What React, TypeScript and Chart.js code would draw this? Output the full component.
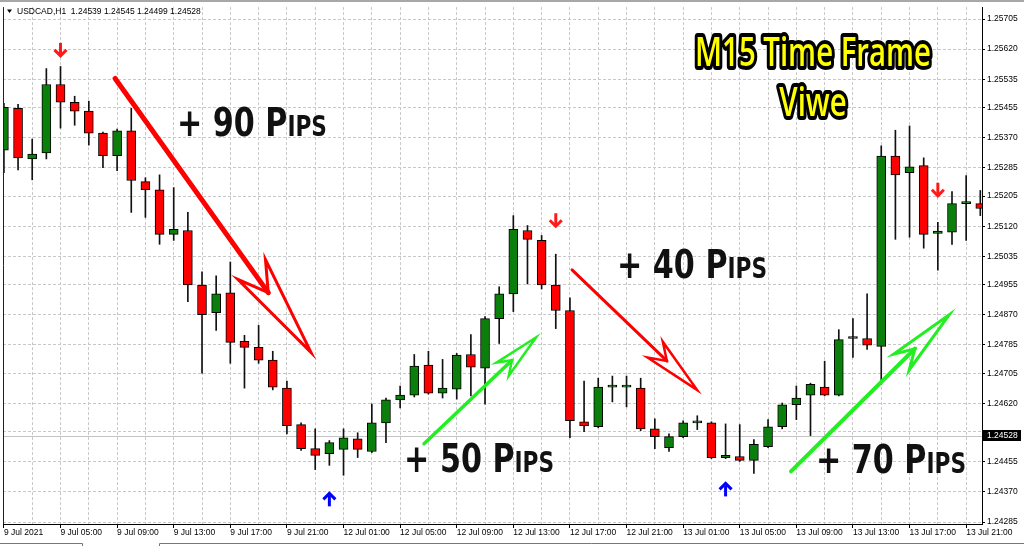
import React, { useEffect, useRef } from 'react';
import { Chart, registerables } from 'chart.js';

Chart.register(...registerables);

// ---------- DATA ----------
const symbolHeader = 'USDCAD,H1  1.24539 1.24545 1.24499 1.24528';
const currentPrice = 1.24528;

// hourly candles, 9 Jul 2021 01:00 -> 13 Jul 2021 22:00
const opens = [
  1.25335, 1.25453, 1.2531, 1.25327, 1.2552, 1.2547, 1.25445, 1.25383, 1.25319, 1.25389,
  1.25246, 1.25223, 1.25097, 1.25108, 1.24954, 1.24876, 1.24932, 1.24795, 1.24778, 1.24742,
  1.24663, 1.2456, 1.24492, 1.24478, 1.2449, 1.2452, 1.24484, 1.24565, 1.2463, 1.24643,
  1.24728, 1.24649, 1.2466, 1.24758, 1.24719, 1.24859, 1.24929, 1.25108, 1.2508, 1.24954,
  1.24882, 1.24568, 1.24554, 1.24666, 1.24666, 1.24663, 1.24548, 1.24495, 1.24526, 1.24565,
  1.24565, 1.24467, 1.2447, 1.24459, 1.24498, 1.24554, 1.24616, 1.24643, 1.24666, 1.24643,
  1.24803, 1.24803, 1.24781, 1.25318, 1.25271, 1.25291, 1.251, 1.25103, 1.25184, 1.25184,
];
const highs = [
  1.25467, 1.25464, 1.25366, 1.25565, 1.25571, 1.25487, 1.25473, 1.25386, 1.25394, 1.25453,
  1.25257, 1.25265, 1.25229, 1.25159, 1.24991, 1.2498, 1.25019, 1.24812, 1.2484, 1.24767,
  1.24683, 1.24565, 1.24548, 1.24515, 1.24548, 1.24537, 1.24618, 1.24635, 1.24669, 1.24758,
  1.24767, 1.24744, 1.24761, 1.24814, 1.24865, 1.24949, 1.2515, 1.25122, 1.25094, 1.25041,
  1.24918, 1.24683, 1.24691, 1.24697, 1.24697, 1.24691, 1.24576, 1.24534, 1.24571, 1.24585,
  1.24568, 1.24562, 1.2456, 1.24518, 1.24574, 1.24621, 1.24669, 1.24677, 1.24739, 1.24828,
  1.24859, 1.24929, 1.25347, 1.25391, 1.25403, 1.25313, 1.25131, 1.25218, 1.25263, 1.25221,
];
const lows = [
  1.25271, 1.25279, 1.25251, 1.2531, 1.25397, 1.25405, 1.25349, 1.25285, 1.25277, 1.25159,
  1.25145, 1.25069, 1.2508, 1.24907, 1.24705, 1.24826, 1.24733, 1.24663, 1.24733, 1.24658,
  1.24534, 1.24487, 1.24433, 1.24445, 1.24417, 1.24467, 1.24481, 1.24509, 1.24607, 1.24638,
  1.24646, 1.24635, 1.24632, 1.24641, 1.24618, 1.24789, 1.24879, 1.24957, 1.24943, 1.24831,
  1.24523, 1.2454, 1.24551, 1.24624, 1.2461, 1.24543, 1.24492, 1.24484, 1.24523, 1.24546,
  1.24464, 1.24464, 1.24456, 1.24422, 1.24495, 1.24548, 1.24574, 1.24529, 1.24641, 1.24641,
  1.2475, 1.24772, 1.24674, 1.25083, 1.25089, 1.25058, 1.24996, 1.25069, 1.2508, 1.2515,
];
const closes = [
  1.25456, 1.25313, 1.25324, 1.2552, 1.2547, 1.25445, 1.25383, 1.25319, 1.25389, 1.25249,
  1.25223, 1.25097, 1.25111, 1.24954, 1.2487, 1.24929, 1.24792, 1.24778, 1.24742, 1.24666,
  1.24557, 1.24492, 1.24473, 1.24509, 1.24523, 1.2449, 1.24565, 1.2463, 1.24643, 1.24725,
  1.24649, 1.24663, 1.24756, 1.24722, 1.24859, 1.24929, 1.25111, 1.25083, 1.24954, 1.24882,
  1.24571, 1.24557, 1.24666, 1.24666, 1.24666, 1.24548, 1.24526, 1.24526, 1.24565, 1.24565,
  1.24467, 1.24473, 1.24459, 1.24504, 1.24554, 1.24616, 1.24635, 1.24674, 1.24643, 1.248,
  1.24803, 1.24784, 1.25318, 1.25265, 1.25288, 1.25097, 1.25106, 1.25184, 1.25184, 1.2517,
];

// one label every 4 hours (every 4th candle)
const xTickLabels = [
  '9 Jul 2021', '9 Jul 05:00', '9 Jul 09:00', '9 Jul 13:00', '9 Jul 17:00', '9 Jul 21:00',
  '12 Jul 01:00', '12 Jul 05:00', '12 Jul 09:00', '12 Jul 13:00', '12 Jul 17:00', '12 Jul 21:00',
  '13 Jul 01:00', '13 Jul 05:00', '13 Jul 09:00', '13 Jul 13:00', '13 Jul 17:00', '13 Jul 21:00',
];
const yTickValues = [
  1.25705, 1.2562, 1.25535, 1.25455, 1.2537, 1.25285, 1.25205, 1.2512, 1.25035, 1.24955,
  1.2487, 1.24785, 1.24705, 1.2462, 1.2454, 1.24455, 1.2437, 1.24285,
];
const yMin = 1.242794;
const yMax = 1.257386;
const xMin = -0.064;
const xMax = 69.12;

// annotations in data units (candle index, price)
const downSignalIdx = [4, 39, 66];
const downSignalPrice = [1.25601, 1.2512, 1.25206];
const upSignalIdx = [23, 51];
const upSignalPrice = [1.24366, 1.24394];

const trendFromIdx = [7.86, 40.15, 29.69, 55.62];
const trendFromPrice = [1.25537, 1.24997, 1.24506, 1.24428];
const trendToIdx = [21.7, 48.98, 37.6, 66.8];
const trendToPrice = [1.24764, 1.24658, 1.24806, 1.2487];

const pipTexts = ['+ 90 Pips', '+ 50 Pips', '+ 40 Pips', '+ 70 Pips'];
const pipIdx = [12.23, 28.28, 43.33, 57.39];
const pipPrice = [1.25375, 1.24425, 1.24974, 1.24422];

const titleLines = ['M15 Time Frame', 'Viwe'];
const titleIdx = 57.18;
const titlePrice = [1.25573, 1.2543];

// ---------- STYLE ----------
const GREEN = '#0b7f0b';
const RED = '#ff0000';
const TICK_FONT = "'Liberation Sans', Arial, sans-serif";
const PIP_FONT = "'Liberation Sans Narrow', 'DejaVu Sans Condensed', 'DejaVu Sans', sans-serif";
const TITLE_FONT = "'Comic Sans MS', 'Open Sans', 'Noto Sans', sans-serif";

const trendColors = [RED, RED, '#22ee22', '#22ee22'];
const trendShaft = [5, 3, 3.5, 4];
const trendHeadL = [102, 58, 46, 67];
const trendHeadW = [17, 11, 9, 11];
const trendOutline = [3, 2.5, 2.5, 3];

function drawTrendArrow(ctx: CanvasRenderingContext2D, x0: number, y0: number, x1: number, y1: number,
  color: string, shaftW: number, headL: number, headW: number, outlineW: number) {
  const dx = x1 - x0, dy = y1 - y0;
  const len = Math.hypot(dx, dy);
  const ux = dx / len, uy = dy / len;
  const nx = -uy, ny = ux;
  const bx = x1 - ux * headL, by = y1 - uy * headL;
  const kx = x1 - ux * headL * 0.72, ky = y1 - uy * headL * 0.72;
  ctx.save();
  ctx.strokeStyle = color;
  ctx.lineCap = 'round';
  ctx.lineWidth = shaftW;
  ctx.beginPath();
  ctx.moveTo(x0, y0);
  ctx.lineTo(kx, ky);
  ctx.stroke();
  ctx.lineWidth = outlineW;
  ctx.lineJoin = 'miter';
  ctx.beginPath();
  ctx.moveTo(x1, y1);
  ctx.lineTo(bx + nx * headW, by + ny * headW);
  ctx.lineTo(kx, ky);
  ctx.lineTo(bx - nx * headW, by - ny * headW);
  ctx.closePath();
  ctx.stroke();
  ctx.restore();
}

function drawSignal(ctx: CanvasRenderingContext2D, cx: number, tipY: number, dir: number, color: string) {
  const h = 13, w = 6;
  ctx.save();
  ctx.strokeStyle = color;
  ctx.lineWidth = 3;
  ctx.lineCap = 'butt';
  ctx.lineJoin = 'miter';
  ctx.beginPath();
  ctx.moveTo(cx, tipY - dir * h);
  ctx.lineTo(cx, tipY - dir * 2);
  ctx.stroke();
  ctx.beginPath();
  ctx.moveTo(cx - w, tipY - dir * w);
  ctx.lineTo(cx, tipY);
  ctx.lineTo(cx + w, tipY - dir * w);
  ctx.stroke();
  ctx.restore();
}

function drawPips(ctx: CanvasRenderingContext2D, text: string, x: number, baseline: number) {
  const idx = text.indexOf('P');
  const head = text.slice(0, idx + 1);
  const tail = text.slice(idx + 1).toUpperCase();
  const big = `bold 39px ${PIP_FONT}`;
  const small = `bold 28px ${PIP_FONT}`;
  ctx.save();
  ctx.font = big;
  const w1 = ctx.measureText(head).width;
  ctx.font = small;
  const w2 = ctx.measureText(tail).width;
  const s = 150 / (w1 + w2);
  ctx.translate(x, baseline);
  ctx.scale(s, 1);
  ctx.fillStyle = '#111';
  ctx.textAlign = 'left';
  ctx.textBaseline = 'alphabetic';
  ctx.font = big;
  ctx.fillText(head, 0, 0);
  ctx.font = small;
  ctx.fillText(tail, w1, 0);
  ctx.restore();
}

const overlay = {
  id: 'overlay',
  beforeDatasetsDraw(chart: any) {
    const { ctx, chartArea, scales } = chart;
    const py = Math.round(scales.y.getPixelForValue(currentPrice)) + 0.5;
    ctx.save();
    ctx.strokeStyle = '#c4c4c4';
    ctx.lineWidth = 1;
    ctx.beginPath();
    ctx.moveTo(chartArea.left, py);
    ctx.lineTo(chartArea.right, py);
    ctx.stroke();
    ctx.restore();
  },
  afterDraw(chart: any) {
    const { ctx, chartArea, scales } = chart;
    const xs = scales.x, ys = scales.y;
    ctx.save();
    // frame pieces
    ctx.fillStyle = '#a8a8a8';
    ctx.fillRect(0, 0, chart.width, 2);
    ctx.strokeStyle = '#222';
    ctx.lineWidth = 1;
    ctx.beginPath();
    ctx.moveTo(chartArea.left + 0.5, chartArea.top);
    ctx.lineTo(chartArea.left + 0.5, chartArea.bottom);
    ctx.stroke();
    // bottom tabs
    ctx.strokeStyle = '#777';
    ctx.beginPath();
    ctx.moveTo(0, 543.5); ctx.lineTo(82.5, 543.5); ctx.lineTo(82.5, 546);
    ctx.moveTo(159.5, 546); ctx.lineTo(159.5, 543.5); ctx.lineTo(chart.width, 543.5);
    ctx.stroke();

    // clip annotations to plot
    ctx.save();
    ctx.beginPath();
    ctx.rect(chartArea.left, chartArea.top, chartArea.right - chartArea.left, chartArea.bottom - chartArea.top);
    ctx.clip();
    for (let i = 0; i < trendFromIdx.length; i++) {
      drawTrendArrow(ctx,
        xs.getPixelForValue(trendFromIdx[i]), ys.getPixelForValue(trendFromPrice[i]),
        xs.getPixelForValue(trendToIdx[i]), ys.getPixelForValue(trendToPrice[i]),
        trendColors[i], trendShaft[i], trendHeadL[i], trendHeadW[i], trendOutline[i]);
    }
    for (let i = 0; i < downSignalIdx.length; i++) {
      drawSignal(ctx, xs.getPixelForValue(downSignalIdx[i]), ys.getPixelForValue(downSignalPrice[i]), 1, '#ff1a1a');
    }
    for (let i = 0; i < upSignalIdx.length; i++) {
      drawSignal(ctx, xs.getPixelForValue(upSignalIdx[i]), ys.getPixelForValue(upSignalPrice[i]), -1, '#0000ff');
    }
    for (let i = 0; i < pipTexts.length; i++) {
      drawPips(ctx, pipTexts[i], xs.getPixelForValue(pipIdx[i]), ys.getPixelForValue(pipPrice[i]));
    }
    // title
    ctx.font = `600 39px ${TITLE_FONT}`;
    const tw = ctx.measureText(titleLines[0]).width;
    const s = 236 / tw;
    const cx = xs.getPixelForValue(titleIdx);
    for (let i = 0; i < titleLines.length; i++) {
      ctx.save();
      ctx.translate(cx, ys.getPixelForValue(titlePrice[i]));
      ctx.scale(s, 1);
      ctx.textAlign = 'center';
      ctx.textBaseline = 'alphabetic';
      ctx.lineJoin = 'round';
      ctx.lineWidth = 8;
      ctx.strokeStyle = '#000';
      ctx.strokeText(titleLines[i], 0, 0);
      ctx.fillStyle = '#ffff00';
      ctx.fillText(titleLines[i], 0, 0);
      ctx.restore();
    }
    ctx.restore();

    // header
    ctx.fillStyle = '#000';
    ctx.beginPath();
    ctx.moveTo(7, 9.5); ctx.lineTo(12, 9.5); ctx.lineTo(9.5, 13);
    ctx.closePath();
    ctx.fill();
    ctx.font = `8.5px ${TICK_FONT}`;
    ctx.textAlign = 'left';
    ctx.textBaseline = 'middle';
    ctx.fillText(symbolHeader, 17, 11.5);

    // current price box
    const py = Math.round(ys.getPixelForValue(currentPrice));
    ctx.fillStyle = '#000';
    ctx.fillRect(chartArea.right + 1, py - 6, 38, 11);
    ctx.fillStyle = '#fff';
    ctx.fillText(currentPrice.toFixed(5), chartArea.right + 5, py);
    ctx.restore();
  },
};

export default function App() {
  const ref = useRef<HTMLCanvasElement | null>(null);
  useEffect(() => {
    if (!ref.current) return;
    const idx = opens.map((_, i) => i);
    const bodyColors = idx.map((i) => (closes[i] >= opens[i] ? GREEN : RED));
    const chart = new Chart(ref.current, {
      type: 'bar',
      data: {
        datasets: [
          {
            label: 'body',
            data: idx.map((i) => ({ x: i, y: [opens[i], closes[i]] })) as any,
            backgroundColor: bodyColors,
            borderColor: '#000',
            borderWidth: 1,
            borderSkipped: false,
            barThickness: 9,
            minBarLength: 2,
            grouped: false,
            clip: 0,
            order: 0,
          } as any,
          {
            label: 'wick',
            data: idx.map((i) => ({ x: i, y: [lows[i], highs[i]] })) as any,
            backgroundColor: '#111',
            borderWidth: 0,
            barThickness: 1,
            grouped: false,
            clip: 0,
            order: 1,
          } as any,
        ],
      },
      options: {
        responsive: false,
        devicePixelRatio: 1,
        animation: false,
        layout: { padding: { left: 3, top: 3, right: 0, bottom: 0 } },
        plugins: { legend: { display: false }, tooltip: { enabled: false } },
        scales: {
          x: {
            type: 'linear',
            min: xMin,
            max: xMax,
            offset: false,
            afterBuildTicks: (scale: any) => {
              const t = [];
              for (let k = 0; k < opens.length; k += 2) t.push({ value: k });
              scale.ticks = t;
            },
            afterFit: (scale: any) => { scale.height = 22; },
            grid: {
              offset: false,
              color: '#c8c8c8',
              lineWidth: 1,
              tickLength: 4,
              tickColor: (c: any) => (c.tick && c.tick.value % 4 === 0 ? '#000' : 'rgba(0,0,0,0)'),
            },
            border: { display: true, color: '#000', width: 1, dash: [3, 2] },
            ticks: {
              autoSkip: false,
              maxRotation: 0,
              minRotation: 0,
              align: 'start',
              padding: 0,
              color: '#000',
              font: { family: TICK_FONT, size: 8.5 },
              callback: (v: any) => (Number(v) % 4 === 0 ? xTickLabels[Number(v) / 4] ?? '' : ''),
            },
          } as any,
          y: {
            type: 'linear',
            position: 'right',
            min: yMin,
            max: yMax,
            afterBuildTicks: (scale: any) => {
              scale.ticks = yTickValues.map((v) => ({ value: v }));
            },
            afterFit: (scale: any) => { scale.width = 42; },
            grid: {
              color: '#c8c8c8',
              lineWidth: 1,
              tickLength: 3,
              tickColor: '#000',
            },
            border: { display: true, color: '#000', width: 1, dash: [3, 2] },
            ticks: {
              padding: 2,
              color: '#000',
              font: { family: TICK_FONT, size: 8.5 },
              // the label nearest the current price sits under the price box
              callback: (v: any) => (Math.abs(Number(v) - currentPrice) < 0.0002 ? '' : Number(v).toFixed(5)),
            },
          } as any,
        },
      },
      plugins: [overlay],
    });
    return () => chart.destroy();
  }, []);
  return (
    <div style={{ position: 'fixed', left: 0, top: 0, width: 1024, height: 546, background: '#fff' }}>
      <canvas ref={ref} width={1024} height={546} style={{ display: 'block' }} />
    </div>
  );
}
